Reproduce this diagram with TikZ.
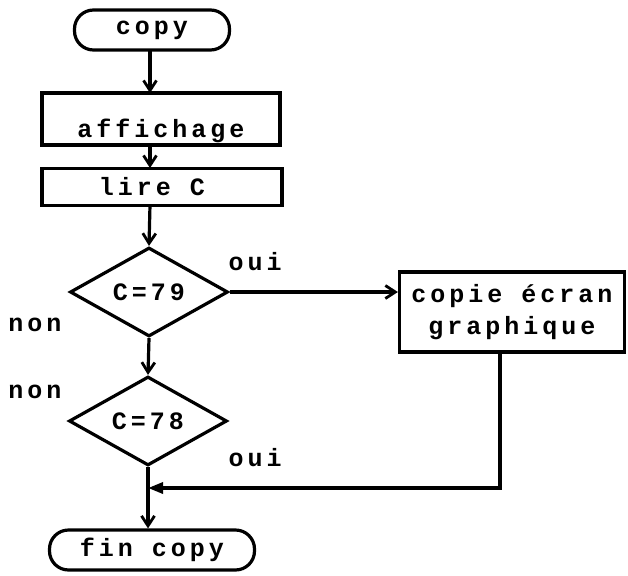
\documentclass[tikz,border=0pt]{standalone}
\usepackage{fontspec}
\newfontfamily\plotfont[LetterSpace=16]{Liberation Mono}
\usetikzlibrary{shapes.geometric,arrows.meta,calc}
\begin{document}
\begin{tikzpicture}[x=1pt,y=-1pt,
  every node/.style={font=\plotfont\bfseries\fontsize{25}{32}\selectfont},
  ln/.style={line width=3.2pt},
  arr/.style={ln,-{Straight Barb[length=10pt,width=13pt,line width=2.8pt]}},
  farr/.style={ln,-{Triangle[length=15pt,width=11pt]}},
  term/.style={draw,line width=3.2pt,rounded corners=19pt,minimum height=40pt,inner sep=0pt},
  boxx/.style={draw,line width=3.2pt,rectangle,inner sep=0pt},
  dia/.style={draw,line width=3.2pt,diamond,inner sep=0pt,minimum width=158pt,minimum height=76pt}]
\useasboundingbox (0,0) rectangle (628,575);
\node[term,minimum width=155pt] (copy) at (152,30) {copy};
\node[boxx,minimum width=238pt,minimum height=52pt] (aff) at (161,119) {\raisebox{-18pt}[0pt][0pt]{affichage}};
\node[boxx,minimum width=240pt,minimum height=37pt] (lire) at (162,187) {\hspace*{-20pt}lire C};
\node[dia] (d79) at (149,292) {C=79};
\node[boxx,minimum width=225pt,minimum height=80pt,align=center] (cop) at (512,312) {copie écran\\graphique};
\node[dia] (d78) at (148,421) {C=78};
\node[term,minimum width=205pt] (fin) at (152,550) {fin copy};
\node (oui1) at (255,262) {oui};
\node (non1) at (35,325) {non};
\node (non2) at (35,392) {non};
\node (oui2) at (255,458) {oui};
\coordinate (m) at (148,488);
\draw[arr] (150,50) -- (150,93);
\draw[arr] (150,145) -- (150,168);
\draw[arr] (150,205) -- (d79.north);
\draw[arr] (d79.east) -- (cop.west |- d79.east);
\draw[arr] (d79.south) -- (d78.north);
\draw[farr] ($(cop.south)+(-12,0)$) |- (m);
\draw[ln] (d78.south) -- (m);
\draw[arr] (m) -- (m |- fin.north);
\end{tikzpicture}
\end{document}
